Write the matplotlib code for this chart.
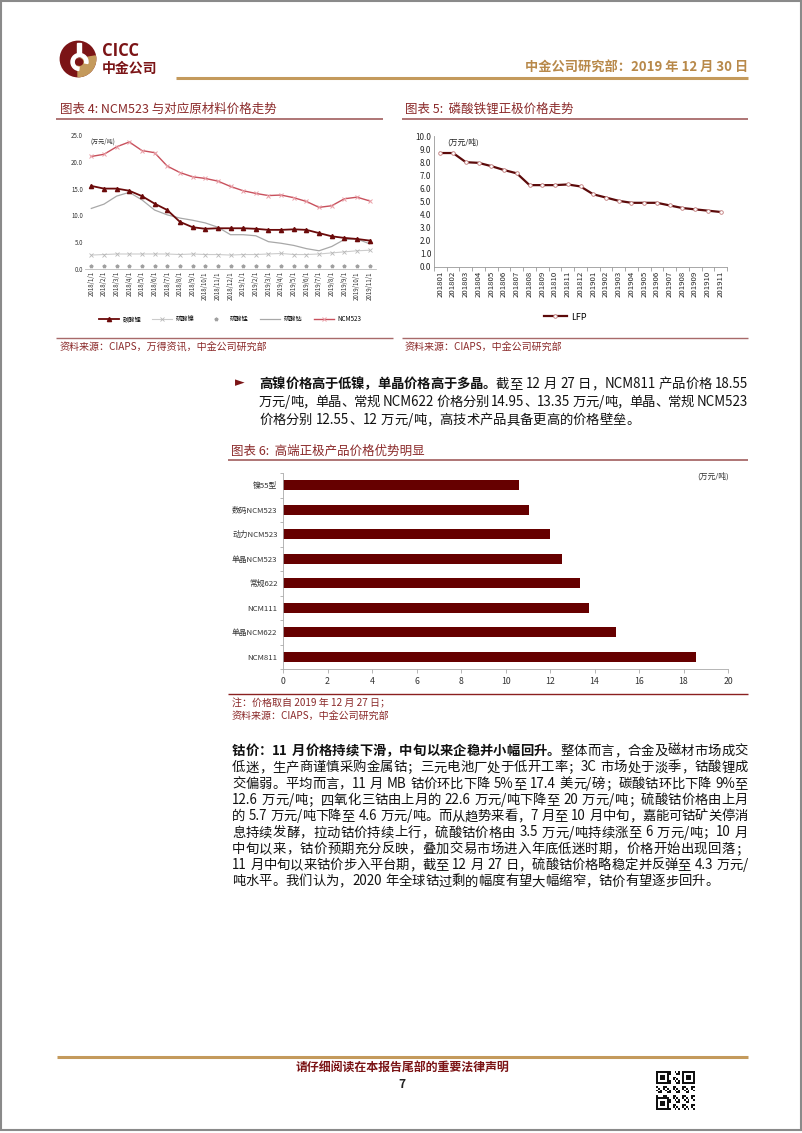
import re
import matplotlib
matplotlib.use('Agg')
import matplotlib.pyplot as plt
from matplotlib.patches import Circle, Wedge, Rectangle
from matplotlib.lines import Line2D
import numpy as np

plt.rcParams['font.family'] = ['Noto Sans CJK SC', 'DejaVu Sans']
plt.rcParams['axes.unicode_minus'] = False

# ---------------- data ----------------
months4 = ['2018/1/1', '2018/2/1', '2018/3/1', '2018/4/1', '2018/5/1', '2018/6/1',
           '2018/7/1', '2018/8/1', '2018/9/1', '2018/10/1', '2018/11/1', '2018/12/1',
           '2019/1/1', '2019/2/1', '2019/3/1', '2019/4/1', '2019/5/1', '2019/6/1',
           '2019/7/1', '2019/8/1', '2019/9/1', '2019/10/1', '2019/11/1']
li2co3 = [15.5, 15.0, 15.0, 14.6, 13.6, 12.2, 11.0, 8.8, 7.8, 7.5, 7.6, 7.6,
          7.6, 7.5, 7.3, 7.3, 7.4, 7.3, 6.7, 6.1, 5.8, 5.6, 5.3]
niso4 = [2.6, 2.7, 2.8, 2.8, 2.8, 2.8, 2.8, 2.7, 2.8, 2.7, 2.7, 2.6,
         2.7, 2.7, 2.8, 2.9, 2.7, 2.7, 2.8, 3.0, 3.2, 3.4, 3.5]
mnso4 = [0.6, 0.6, 0.6, 0.6, 0.6, 0.6, 0.6, 0.6, 0.6, 0.6, 0.6, 0.6,
         0.6, 0.6, 0.6, 0.6, 0.6, 0.6, 0.6, 0.6, 0.6, 0.6, 0.6]
coso4 = [11.3, 12.1, 13.6, 14.3, 12.9, 11.0, 10.1, 9.5, 9.1, 8.6, 7.8, 6.4,
         6.4, 6.2, 5.1, 4.8, 4.4, 3.8, 3.4, 4.2, 5.5, 5.6, 4.7]
ncm523 = [21.0, 21.4, 22.8, 23.7, 22.1, 21.7, 19.2, 18.0, 17.2, 16.9, 16.4, 15.4,
          14.6, 14.1, 13.7, 13.8, 13.3, 12.6, 11.5, 11.8, 13.1, 13.4, 12.7]
series4_names = ['碳酸锂', '硫酸镍', '硫酸锰', '硫酸钴', 'NCM523']

months5 = ['201801', '201802', '201803', '201804', '201805', '201806', '201807',
           '201808', '201809', '201810', '201811', '201812', '201901', '201902',
           '201903', '201904', '201905', '201906', '201907', '201908', '201909',
           '201910', '201911']
lfp = [8.7, 8.7, 8.0, 7.95, 7.7, 7.4, 7.15, 6.25, 6.25, 6.25, 6.3, 6.15,
       5.55, 5.3, 5.05, 4.9, 4.9, 4.9, 4.7, 4.5, 4.4, 4.3, 4.2]

bar_cats = ['镍55型', '数码NCM523', '动力NCM523', '单晶NCM523', '常规622',
            'NCM111', '单晶NCM622', 'NCM811']
bar_vals = [10.6, 11.05, 12.0, 12.55, 13.35, 13.75, 14.95, 18.55]

# ---------------- page ----------------
W, H = 802, 1133
fig = plt.figure(figsize=(W / 100, H / 100), dpi=100)
page = fig.add_axes([0, 0, 1, 1])
page.set_xlim(0, W)
page.set_ylim(H, 0)
page.axis('off')

DARK = '#6b0a0a'
TITLE = '#8b2a2a'
GOLD = '#c49a5c'
ULINE = '#a86a6a'


def ax_at(l, t, r, b):
    return fig.add_axes([l / W, 1 - b / H, (r - l) / W, (b - t) / H])


def hline(x0, x1, y, color, lw):
    page.plot([x0, x1], [y, y], color=color, lw=lw, solid_capstyle='butt')


# page border
page.add_patch(Rectangle((1, 1), W - 2, 1129, fill=False, ec='#8a8a8a', lw=1.5))

# logo
page.add_patch(Circle((78, 59), 17.7, color='#7b1416'))
page.add_patch(Wedge((78, 59), 17.7, -10, 90, color=GOLD))
page.add_patch(Wedge((79.5, 62), 8.5, 95, 370, width=3.2, color='white'))
page.add_patch(Rectangle((77.3, 43), 3.2, 12, color='white'))
page.add_patch(Circle((79.5, 62), 3.2, color='#7b1416'))
page.text(102, 51, 'CICC', fontsize=12, weight='bold', color='#7b1416',
          va='center', ha='left', family='Open Sans')
page.text(102, 69, '中金公司', fontsize=10, weight='bold', color='#7b1416',
          va='center', ha='left')

page.text(748, 67, '中金公司研究部：2019 年 12 月 30 日', fontsize=9.5, weight='bold',
          color='#b8894a', va='center', ha='right')
hline(176, 748, 78, GOLD, 2.2)

# chart titles
page.text(60, 109, '图表 4: NCM523 与对应原材料价格走势', fontsize=9, color=TITLE,
          va='center', ha='left', style='italic')
hline(56, 383, 119, ULINE, 1.3)
page.text(405, 109, '图表 5:  磷酸铁锂正极价格走势', fontsize=9, color=TITLE,
          va='center', ha='left', style='italic')
hline(402, 748, 119, ULINE, 1.3)

# ---------------- chart 4 ----------------
ax4 = ax_at(85, 135, 376, 269)
x4 = np.arange(len(months4))
ax4.plot(x4, coso4, color='#a8a8a8', lw=0.9, label=series4_names[3], zorder=2)
ax4.plot(x4, niso4, color='#cccccc', lw=0.8, marker='x', ms=2.2, mec='#b8b8b8',
         mew=0.6, label=series4_names[1], zorder=2)
ax4.plot(x4, mnso4, ls='none', marker='*', ms=2.6, color='#a0a0a0',
         label=series4_names[2], zorder=2)
ax4.plot(x4, ncm523, color='#c8505c', lw=1.0, marker='x', ms=2.4, mec='#eaa0a8',
         mew=0.7, label=series4_names[4], zorder=3)
ax4.plot(x4, li2co3, color=DARK, lw=1.3, marker='^', ms=3, mfc=DARK, mec=DARK,
         label=series4_names[0], zorder=4)
ax4.set_xlim(-0.5, len(months4) - 0.5)
ax4.set_ylim(0, 25)
ax4.set_yticks([0, 5, 10, 15, 20, 25])
ax4.set_yticklabels(['0.0', '5.0', '10.0', '15.0', '20.0', '25.0'])
ax4.set_xticks(x4)
ax4.set_xticklabels(months4, rotation=90)
ax4.tick_params(axis='both', length=0, labelsize=4.4, colors='#333333', pad=1.5)
for s in ['top', 'right', 'left']:
    ax4.spines[s].set_visible(False)
ax4.spines['bottom'].set_color('#bbbbbb')
ax4.spines['bottom'].set_linewidth(0.6)
ax4.patch.set_alpha(0)
ax4.text(0.02, 0.98, '(万元/吨)', transform=ax4.transAxes, fontsize=4.4,
         color='#333333', va='top', ha='left', style='italic')
h, l = ax4.get_legend_handles_labels()
order = [l.index(n) for n in series4_names]
fig.legend([h[i] for i in order], [l[i] for i in order], loc='center',
           bbox_to_anchor=(230 / W, 1 - 319 / H), ncol=5, frameon=False,
           fontsize=4.5, handlelength=3.2, columnspacing=1.8, handletextpad=0.6)

hline(56, 393, 338, ULINE, 1.0)
page.text(60, 348, '资料来源：CIAPS，万得资讯，中金公司研究部', fontsize=7.2,
          color=TITLE, va='center', ha='left', style='italic')

# ---------------- chart 5 ----------------
ax5 = ax_at(434, 136, 727, 267)
x5 = np.arange(len(months5))
ax5.plot(x5, lfp, color='#5c0a0a', lw=1.6, marker='o', ms=2.6, mfc='white',
         mec='#c07a7a', mew=0.6, label='LFP')
ax5.set_xlim(-0.5, len(months5) - 0.5)
ax5.set_ylim(0, 10)
ax5.set_yticks(np.arange(0, 11, 1))
ax5.set_yticklabels([f'{v:.1f}' for v in np.arange(0, 11, 1)])
ax5.set_xticks(x5)
ax5.set_xticklabels(months5, rotation=90)
ax5.set_xticks(np.arange(-0.5, len(months5), 1), minor=True)
ax5.tick_params(axis='x', which='major', length=0, labelsize=5.6, colors='#222222', pad=3)
ax5.tick_params(axis='x', which='minor', length=3, color='#999999', width=0.6)
ax5.tick_params(axis='y', length=0, labelsize=5.8, colors='#222222', pad=2)
for s in ['top', 'right']:
    ax5.spines[s].set_visible(False)
for s in ['left', 'bottom']:
    ax5.spines[s].set_color('#999999')
    ax5.spines[s].set_linewidth(0.6)
ax5.patch.set_alpha(0)
ax5.text(0.045, 0.985, '(万元/吨)', transform=ax5.transAxes, fontsize=5.6,
         color='#222222', va='top', ha='left', style='italic')
fig.legend(*ax5.get_legend_handles_labels(), loc='center',
           bbox_to_anchor=(565 / W, 1 - 317 / H), frameon=False, fontsize=6.5,
           handlelength=2.6, handletextpad=0.4)

hline(402, 748, 338, ULINE, 1.0)
page.text(405, 348, '资料来源：CIAPS，中金公司研究部', fontsize=7.2,
          color=TITLE, va='center', ha='left', style='italic')

# ---------------- text helpers ----------------
fig.canvas.draw()
renderer = fig.canvas.get_renderer()
TOK = re.compile(r'[\x21-\x7e]+|\s+|[^\x00-\x7f]')


def tok_width(tok, size, weight):
    if tok.isspace():
        return 0.27 * size * 100 / 72 * len(tok)
    if ord(tok[0]) > 127:
        return size * 100 / 72
    t = fig.text(0, 0, tok, fontsize=size, weight=weight)
    w = t.get_window_extent(renderer).width
    t.remove()
    return w


def draw_line(x0, x1, y, segments, size, justify=True, color='#111111'):
    toks = []
    for text, weight in segments:
        for m in TOK.findall(text):
            toks.append((m, weight))
    widths = [tok_width(t, size, w) for t, w in toks]
    total = sum(widths)
    extra = 0.0
    if justify and len(toks) > 1:
        extra = (x1 - x0 - total) / (len(toks) - 1)
    x = x0
    for (t, w), wd in zip(toks, widths):
        if not t.isspace():
            page.text(x, y, t, fontsize=size, weight=w, color=color,
                      va='baseline', ha='left')
        x += wd + extra


# ---------------- bullet paragraph ----------------
page.text(235, 383, '►', fontsize=9, color='#7b1416', va='center', ha='left',
          family='DejaVu Sans')
bullet_lines = [
    [('高镍价格高于低镍，单晶价格高于多晶。', 'bold'),
     ('截至 12 月 27 日，NCM811 产品价格 18.55', 'normal')],
    [('万元/吨，单晶、常规 NCM622 价格分别 14.95、13.35 万元/吨，单晶、常规 NCM523', 'normal')],
    [('价格分别 12.55、12 万元/吨，高技术产品具备更高的价格壁垒。', 'normal')],
]
for i, segs in enumerate(bullet_lines):
    draw_line(259, 748, 388 + 18 * i, segs, 9.6, justify=(i < len(bullet_lines) - 1))

# ---------------- chart 6 ----------------
page.text(231, 451, '图表 6:  高端正极产品价格优势明显', fontsize=9, color=TITLE,
          va='center', ha='left', style='italic')
hline(228, 748, 460, ULINE, 1.3)

ax6 = ax_at(283, 473, 728, 669)
y6 = np.arange(len(bar_cats))
ax6.barh(y6, bar_vals, height=0.42, color='#660000')
ax6.set_ylim(len(bar_cats) - 0.5, -0.5)
ax6.set_xlim(0, 20)
ax6.set_xticks(np.arange(0, 21, 2))
ax6.set_yticks(y6)
ax6.set_yticklabels(bar_cats)
ax6.set_yticks(np.arange(-0.5, len(bar_cats), 1), minor=True)
ax6.tick_params(axis='y', which='major', length=0, labelsize=5.6, colors='#333333', pad=4)
ax6.tick_params(axis='y', which='minor', length=2.5, color='#aaaaaa', width=0.6)
ax6.tick_params(axis='x', length=3, labelsize=6.3, colors='#333333', pad=3,
                color='#aaaaaa', width=0.6)
for s in ['top', 'right']:
    ax6.spines[s].set_visible(False)
for s in ['left', 'bottom']:
    ax6.spines[s].set_color('#aaaaaa')
    ax6.spines[s].set_linewidth(0.6)
ax6.patch.set_alpha(0)
page.text(697, 476, '(万元/吨)', fontsize=5.6, color='#333333', va='center',
          ha='left', style='italic')

hline(228, 748, 694, '#8b2020', 1.0)
page.text(232, 703, '注：价格取自 2019 年 12 月 27 日；', fontsize=7.2, color=TITLE,
          va='center', ha='left', style='italic')
page.text(232, 717, '资料来源：CIAPS，中金公司研究部', fontsize=7.2, color=TITLE,
          va='center', ha='left', style='italic')

# ---------------- cobalt paragraph ----------------
cobalt_lines = [
    [('钴价：11 月价格持续下滑，中旬以来企稳并小幅回升。', 'bold'),
     ('整体而言，合金及磁材市场成交', 'normal')],
    [('低迷，生产商谨慎采购金属钴；三元电池厂处于低开工率；3C 市场处于淡季，钴酸锂成', 'normal')],
    [('交偏弱。平均而言，11 月 MB 钴价环比下降 5%至 17.4 美元/磅；碳酸钴环比下降 9%至', 'normal')],
    [('12.6 万元/吨；四氧化三钴由上月的 22.6 万元/吨下降至 20 万元/吨；硫酸钴价格由上月', 'normal')],
    [('的 5.7 万元/吨下降至 4.6 万元/吨。而从趋势来看，7 月至 10 月中旬，嘉能可钴矿关停消', 'normal')],
    [('息持续发酵，拉动钴价持续上行，硫酸钴价格由 3.5 万元/吨持续涨至 6 万元/吨；10 月', 'normal')],
    [('中旬以来，钴价预期充分反映，叠加交易市场进入年底低迷时期，价格开始出现回落；', 'normal')],
    [('11 月中旬以来钴价步入平台期，截至 12 月 27 日，硫酸钴价格略稳定并反弹至 4.3 万元/', 'normal')],
    [('吨水平。我们认为，2020 年全球钴过剩的幅度有望大幅缩窄，钴价有望逐步回升。', 'normal')],
]
for i, segs in enumerate(cobalt_lines):
    draw_line(232, 748, 755 + 16.3 * i, segs, 9.6, justify=(i < len(cobalt_lines) - 1))

# ---------------- footer ----------------
hline(57, 748, 1057, GOLD, 2.2)
page.text(402, 1068, '请仔细阅读在本报告尾部的重要法律声明', fontsize=8.6, weight='bold',
          color='#7b1416', va='center', ha='center', style='italic')
page.text(402, 1085, '7', fontsize=8.6, weight='bold', color='#222222',
          va='center', ha='center')

# QR code decoration
qx, qy, n = 656, 1071, 21
cs = 39 / n
for i in range(n):
    for j in range(n):
        in_finder = (i < 7 and j < 7) or (i < 7 and j >= n - 7) or (i >= n - 7 and j < 7)
        if in_finder:
            a = i if i < 7 else i - (n - 7)
            b = j if j < 7 else j - (n - 7)
            on = (a in (0, 6) or b in (0, 6)) or (2 <= a <= 4 and 2 <= b <= 4)
        else:
            on = ((i * 7 + j * 13 + i * j) % 5) < 2
        if on:
            page.add_patch(Rectangle((qx + j * cs, qy + i * cs), cs, cs,
                                     color='#111111', lw=0))

fig.savefig('out.png', dpi=100)
